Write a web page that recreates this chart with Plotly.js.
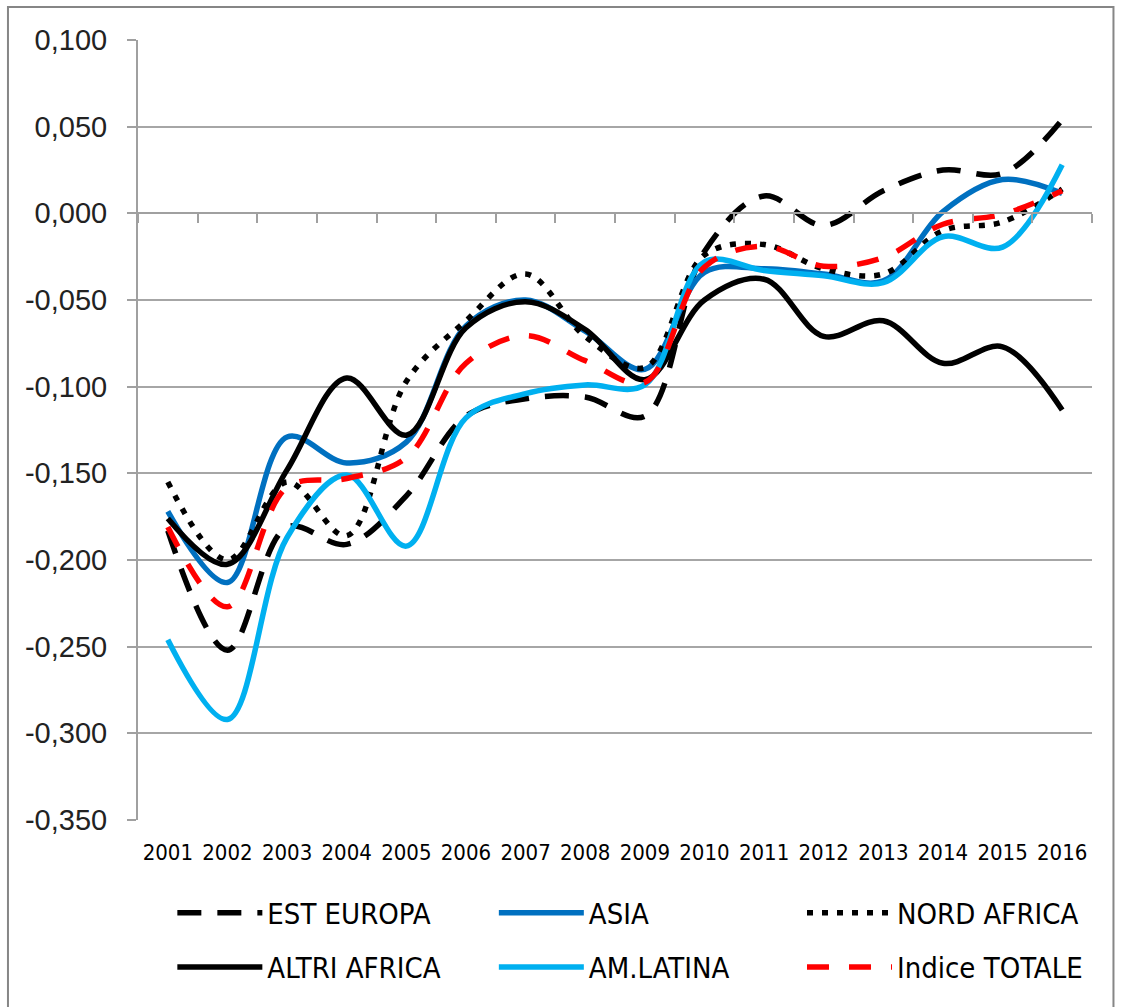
<!DOCTYPE html>
<html>
<head>
<meta charset="utf-8">
<script src="https://cdn.plot.ly/plotly-3.0.1.min.js"></script>
<style>
  html, body { margin: 0; padding: 0; background: #ffffff; }
  #chart { width: 1121px; height: 1007px; }
</style>
</head>
<body>
<div id="chart"></div>
<script>
// ---- Data ----
const categories = ['2001','2002','2003','2004','2005','2006','2007','2008','2009','2010','2011','2012','2013','2014','2015','2016'];

const estEuropa    = [-0.183, -0.252, -0.181, -0.191, -0.163, -0.117, -0.107, -0.106, -0.117, -0.022, 0.010, -0.007, 0.013, 0.025, 0.023, 0.054];
const asia         = [-0.172, -0.213, -0.129, -0.144, -0.132, -0.065, -0.050, -0.068, -0.090, -0.034, -0.032, -0.035, -0.039, 0.001, 0.0195, 0.0115];
const nordAfrica   = [-0.155, -0.200, -0.155, -0.186, -0.097, -0.062, -0.035, -0.071, -0.089, -0.024, -0.018, -0.032, -0.035, -0.010, -0.005, 0.014];
const altriAfrica  = [-0.176, -0.2025, -0.148, -0.095, -0.128, -0.066, -0.051, -0.067, -0.096, -0.050, -0.038, -0.071, -0.062, -0.0865, -0.077, -0.1135];
const amLatina     = [-0.246, -0.292, -0.187, -0.151, -0.192, -0.118, -0.104, -0.099, -0.099, -0.028, -0.033, -0.036, -0.040, -0.0135, -0.0195, 0.028];
const indiceTotale = [-0.181, -0.227, -0.158, -0.153, -0.141, -0.0865, -0.0705, -0.085, -0.0975, -0.031, -0.019, -0.0305, -0.0255, -0.0063, -0.0006, 0.013];

const seriesNames = ['EST EUROPA', 'ASIA', 'NORD AFRICA', 'ALTRI AFRICA', 'AM.LATINA', 'Indice TOTALE'];

const yTickValues = [-0.35, -0.30, -0.25, -0.20, -0.15, -0.10, -0.05, 0, 0.05, 0.10];
const yTickLabels = ['-0,350', '-0,300', '-0,250', '-0,200', '-0,150', '-0,100', '-0,050', '0,000', '0,050', '0,100'];

// boundaries between categories (for tick marks on the zero axis)
const boundaryTicks = Array.from({length: categories.length + 1}, (_, i) => i);

// ---- Styles ----
const narrowFont = '"Liberation Sans Narrow", "DejaVu Sans Condensed", "Arial Narrow", "Liberation Sans", sans-serif';
const lw = 5.5;

const legendIds = ['legend', 'legend2', 'legend3', 'legend4', 'legend5', 'legend6'];

function mk(idx, y, color, dash) {
  return {
    type: 'scatter', mode: 'lines', name: seriesNames[idx],
    x: categories, y: y, legend: legendIds[idx],
    line: { color: color, width: lw, dash: dash, shape: 'spline', smoothing: 1 },
    hoverinfo: 'x+y+name'
  };
}

const traces = [
  mk(0, estEuropa, '#000000', '24px,16px'),
  mk(1, asia, '#0070C0', 'solid'),
  mk(2, nordAfrica, '#000000', '6px,9px'),
  mk(3, altriAfrica, '#000000', 'solid'),
  mk(4, amLatina, '#00B0F0', 'solid'),
  mk(5, indiceTotale, '#FF0000', '22px,20px')
];

const yMin = -0.35, yMax = 0.10;
const zeroPos = (0 - yMin) / (yMax - yMin);

function legendAt(x, y) {
  return {
    orientation: 'h',
    x: x, xanchor: 'left',
    y: y, yanchor: 'middle',
    itemwidth: 85,
    font: { family: narrowFont, size: 29, color: '#000000' },
    bgcolor: 'rgba(0,0,0,0)'
  };
}
const colX = [0.036, 0.373, 0.696];
const rowY = [-0.1192, -0.1885];

const layout = {
  width: 1121, height: 1007,
  paper_bgcolor: '#ffffff', plot_bgcolor: '#ffffff',
  margin: { l: 138, r: 29, t: 40, b: 187, pad: 0 },
  showlegend: true,
  legend:  legendAt(colX[0], rowY[0]),
  legend2: legendAt(colX[1], rowY[0]),
  legend3: legendAt(colX[2], rowY[0]),
  legend4: legendAt(colX[0], rowY[1]),
  legend5: legendAt(colX[1], rowY[1]),
  legend6: legendAt(colX[2], rowY[1]),
  xaxis: {
    type: 'category',
    range: [-0.5, categories.length - 0.5],
    showgrid: false, zeroline: false, showline: false,
    ticks: '', ticklabelstandoff: 17,
    tickfont: { family: narrowFont, size: 22, color: '#000000' },
    fixedrange: true
  },
  xaxis2: {
    overlaying: 'x', anchor: 'free', position: zeroPos,
    type: 'linear', range: [0, categories.length],
    tickmode: 'array', tickvals: boundaryTicks,
    showticklabels: false, showgrid: false, zeroline: false,
    showline: true, linecolor: '#A0A0A0', linewidth: 2,
    ticks: 'outside', ticklen: 9, tickwidth: 2, tickcolor: '#A0A0A0',
    fixedrange: true
  },
  yaxis: {
    range: [yMin, yMax],
    tickmode: 'array', tickvals: yTickValues, ticktext: yTickLabels,
    showgrid: true, gridcolor: '#A6A6A6', gridwidth: 2,
    zeroline: false,
    showline: true, linecolor: '#A0A0A0', linewidth: 2,
    ticks: 'outside', ticklen: 9, tickwidth: 2, tickcolor: '#A0A0A0',
    ticklabelstandoff: 14,
    tickfont: { family: '"Liberation Sans", Arial, sans-serif', size: 29, color: '#222222' },
    fixedrange: true
  },
  shapes: [
    { type: 'rect', xref: 'paper', yref: 'paper',
      x0: -0.1363, x1: 1.0225, y0: -0.245, y1: 1.0423,
      line: { color: '#868686', width: 2 }, fillcolor: 'rgba(0,0,0,0)', layer: 'above' }
  ]
};

// an invisible helper trace so xaxis2 (the zero axis with boundary ticks) is drawn
traces.push({
  type: 'scatter', mode: 'lines', x: [0, categories.length], y: [null, null],
  xaxis: 'x2', yaxis: 'y', showlegend: false, hoverinfo: 'skip'
});

Plotly.newPlot('chart', traces, layout, { displayModeBar: false, staticPlot: true });
</script>
</body>
</html>
